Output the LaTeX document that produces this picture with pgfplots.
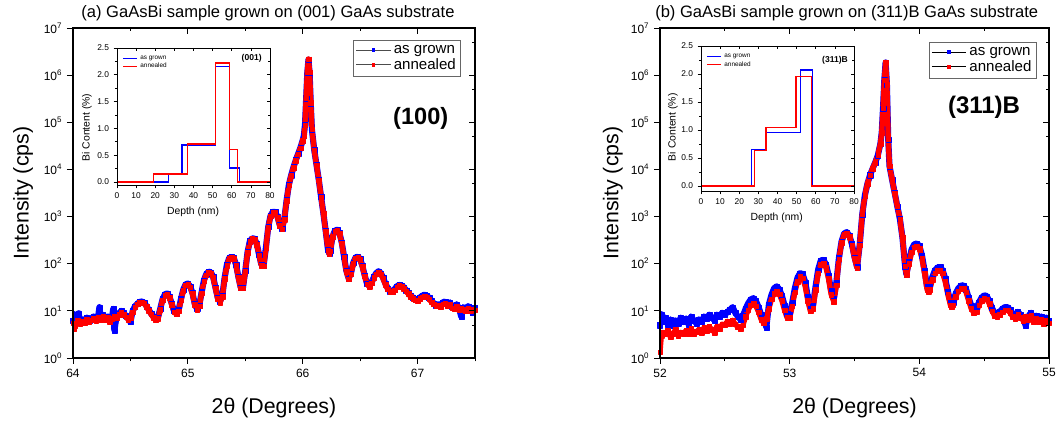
\documentclass[border=0pt]{standalone}
\usepackage{fontspec}
\setmainfont{Liberation Sans}
\usepackage{pgfplots}
\usepackage{pgfplotstable}
\pgfplotsset{compat=1.18}

\pgfplotstableread{
x y
64.00 6.3
64.01 8.5
64.02 6.0
64.04 7.1
64.05 8.9
64.06 5.8
64.08 6.6
64.10 6.3
64.12 7.2
64.14 6.2
64.16 6.9
64.18 7.6
64.20 6.8
64.22 7.9
64.23 12.0
64.24 7.2
64.26 8.3
64.28 7.1
64.30 7.6
64.32 6.3
64.34 7.2
64.35 11.0
64.36 3.9
64.38 7.6
64.40 8.9
64.42 10.0
64.44 9.1
64.46 7.9
64.48 6.9
64.50 5.8
64.52 10.0
64.54 12.6
64.56 14.1
64.58 15.5
64.60 15.8
64.62 14.8
64.64 12.6
64.66 10.5
64.68 8.7
64.70 7.6
64.72 6.9
64.74 7.2
64.76 11.2
64.78 17.8
64.80 22.4
64.82 23.4
64.84 20.0
64.86 14.1
64.88 10.0
64.90 8.9
64.92 10.5
64.94 17.8
64.96 28.2
64.98 36.3
65.00 38.0
65.02 33.1
65.04 24.0
65.06 14.1
65.08 11.2
65.10 13.2
65.12 25.1
65.14 44.7
65.16 60.3
65.18 67.6
65.20 66.1
65.22 52.5
65.24 31.6
65.26 19.1
65.28 15.8
65.30 20.9
65.32 50.1
65.34 95.5
65.36 132
65.38 141
65.40 132
65.42 95.5
65.44 52.5
65.46 31.6
65.48 31.6
65.50 70.8
65.52 178
65.54 302
65.56 347
65.58 339
65.60 263
65.62 158
65.64 95.5
65.66 93.3
65.68 224
65.70 603
65.72 1047
65.74 1259
65.76 1259
65.78 1000
65.80 661
65.82 562
65.84 891
65.86 2239
65.88 4786
65.90 7586
65.92 11220
65.94 15850
65.96 21380
65.98 28840
66.00 41690
66.01 52480
66.02 89130
66.03 316200
66.04 1122000
66.05 2138000
66.06 1122000
66.07 251200
66.08 70790
66.10 26300
66.12 12590
66.14 6026
66.16 2630
66.18 1175
66.20 501
66.22 200
66.23 166
66.24 191
66.26 380
66.28 501
66.30 525
66.32 447
66.34 282
66.36 141
66.38 70.8
66.40 49.0
66.42 63.1
66.44 105
66.46 135
66.48 141
66.50 126
66.52 89.1
66.54 56.2
66.56 38.0
66.58 33.9
66.60 39.8
66.62 52.5
66.64 63.1
66.66 69.2
66.68 63.1
66.70 50.1
66.72 38.0
66.74 30.2
66.76 26.3
66.78 26.3
66.80 28.8
66.82 33.1
66.84 35.5
66.86 34.7
66.88 31.6
66.90 27.5
66.92 24.0
66.94 20.9
66.96 19.1
66.98 17.8
67.00 17.4
67.02 19.1
67.04 20.9
67.06 21.9
67.08 20.9
67.10 19.1
67.12 16.6
67.14 14.5
67.16 13.2
67.18 13.8
67.20 13.2
67.22 15.1
67.24 15.8
67.26 14.1
67.28 15.1
67.30 12.6
67.32 12.0
67.34 13.8
67.36 11.5
67.38 7.6
67.40 12.0
67.42 11.0
67.44 12.6
67.46 11.2
67.48 9.0
67.50 11.5
}\blueL

\pgfplotstableread{
x y
64.00 5.5
64.01 4.2
64.02 4.8
64.04 6.2
64.06 5.4
64.08 6.0
64.10 5.6
64.12 6.5
64.14 5.9
64.16 6.4
64.18 6.9
64.20 6.3
64.22 7.2
64.24 6.6
64.26 7.6
64.28 6.6
64.30 7.2
64.32 6.0
64.34 6.9
64.36 7.6
64.38 7.2
64.40 8.3
64.42 9.1
64.44 8.3
64.46 7.4
64.48 6.6
64.50 7.2
64.52 9.5
64.54 12.0
64.56 13.8
64.58 15.1
64.60 15.5
64.62 14.5
64.64 12.3
64.66 10.2
64.68 8.5
64.70 7.2
64.72 6.4
64.74 6.9
64.76 10.7
64.78 17.0
64.80 21.4
64.82 22.4
64.84 19.1
64.86 13.5
64.88 9.5
64.90 8.5
64.92 10.0
64.94 17.0
64.96 27.0
64.98 35.0
65.00 36.6
65.02 32.0
65.04 23.0
65.06 13.5
65.08 10.7
65.10 12.6
65.12 24.0
65.14 43.0
65.16 58.0
65.18 65.0
65.20 64.0
65.22 50.5
65.24 30.2
65.26 18.2
65.28 15.1
65.30 20.0
65.32 48.0
65.34 92.0
65.36 128
65.38 137
65.40 128
65.42 92.0
65.44 50.5
65.46 30.2
65.48 30.2
65.50 68.0
65.52 172
65.54 295
65.56 340
65.58 330
65.60 255
65.62 152
65.64 92.0
65.66 90.0
65.68 218
65.70 590
65.72 1030
65.74 1240
65.76 1240
65.78 980
65.80 645
65.82 548
65.84 870
65.86 2200
65.88 4700
65.90 7450
65.92 11000
65.94 15600
65.96 21000
65.98 28400
66.00 41000
66.01 51800
66.02 88000
66.03 330000
66.04 1180000
66.05 2200000
66.06 1150000
66.07 260000
66.08 72000
66.10 26000
66.12 12400
66.14 5900
66.16 2580
66.18 1150
66.20 490
66.22 196
66.23 162
66.24 186
66.26 372
66.28 490
66.30 512
66.32 437
66.34 275
66.36 137
66.38 69.0
66.40 47.5
66.42 61.0
66.44 102
66.46 131
66.48 137
66.50 122
66.52 86.0
66.54 54.5
66.56 36.8
66.58 32.8
66.60 38.5
66.62 51.0
66.64 61.0
66.66 67.0
66.68 61.0
66.70 48.0
66.72 36.0
66.74 29.0
66.76 25.0
66.78 25.5
66.80 27.5
66.82 32.0
66.84 34.0
66.86 33.0
66.88 30.0
66.90 26.0
66.92 23.0
66.94 20.0
66.96 18.2
66.98 17.0
67.00 16.6
67.02 18.0
67.04 19.5
67.06 20.4
67.08 19.5
67.10 17.8
67.12 15.5
67.14 13.8
67.16 12.6
67.18 12.9
67.20 12.3
67.22 13.8
67.24 14.5
67.26 12.9
67.28 13.8
67.30 11.5
67.32 11.0
67.34 12.6
67.36 10.5
67.38 11.2
67.40 10.7
67.42 10.0
67.44 11.5
67.46 10.2
67.48 10.7
67.50 10.5
}\redL

\pgfplotstableread{
x y
52.00 5.0
52.01 8.5
52.02 6.0
52.04 7.2
52.06 5.2
52.08 6.6
52.10 4.8
52.12 6.3
52.14 5.5
52.16 7.2
52.18 5.8
52.20 6.9
52.22 5.2
52.24 7.6
52.26 6.3
52.28 5.5
52.30 6.6
52.32 5.8
52.34 7.6
52.36 6.9
52.38 8.3
52.40 7.2
52.42 6.3
52.44 8.3
52.46 7.6
52.48 9.1
52.50 8.3
52.52 9.5
52.54 10.5
52.56 12.0
52.58 9.1
52.60 7.6
52.62 6.6
52.64 7.9
52.66 11.0
52.68 14.5
52.70 17.4
52.72 18.6
52.74 16.2
52.76 12.0
52.78 8.3
52.80 6.9
52.82 4.5
52.84 13.8
52.86 21.9
52.88 30.2
52.90 33.1
52.92 28.8
52.94 20.9
52.96 13.2
52.98 8.7
53.00 8.3
53.02 15.1
53.04 30.2
53.06 50.1
53.08 63.1
53.10 60.3
53.12 40.7
53.14 20.0
53.16 11.2
53.18 13.2
53.20 33.1
53.22 75.9
53.24 117
53.26 120
53.28 97.7
53.30 56.2
53.32 26.3
53.34 17.8
53.36 40.0
53.38 132
53.40 295
53.42 437
53.44 468
53.46 398
53.48 263
53.50 138
53.52 85.0
53.54 251
53.56 1122
53.58 2818
53.60 5012
53.62 7586
53.64 10470
53.66 14130
53.68 19950
53.70 35480
53.71 60260
53.72 199500
53.73 794300
53.74 1862000
53.75 631000
53.76 43650
53.77 11750
53.79 6026
53.81 3162
53.83 1660
53.85 891
53.87 355
53.89 89.1
53.90 60.0
53.92 110
53.94 200
53.96 257
53.98 269
54.00 240
54.02 151
54.04 72.0
54.06 32.0
54.07 29.0
54.08 32.0
54.10 52.0
54.12 72.0
54.14 83.0
54.16 85.0
54.18 72.0
54.20 48.0
54.22 26.0
54.24 15.2
54.25 14.1
54.26 15.2
54.28 23.0
54.30 30.0
54.32 34.0
54.34 35.0
54.36 29.0
54.38 19.0
54.40 13.0
54.42 10.5
54.44 11.0
54.46 15.2
54.48 19.0
54.50 21.4
54.52 20.5
54.54 16.2
54.56 11.5
54.58 9.1
54.60 8.7
54.62 9.5
54.64 11.0
54.66 12.0
54.68 12.0
54.70 10.5
54.72 8.7
54.74 7.9
54.76 9.5
54.78 8.3
54.80 7.2
54.82 4.9
54.84 7.6
54.86 9.1
54.88 6.9
54.90 7.9
54.92 6.6
54.94 7.6
54.96 6.0
54.98 7.2
55.00 6.3
}\blueR

\pgfplotstableread{
x y
52.00 1.35
52.01 3.0
52.02 3.5
52.04 3.2
52.06 3.8
52.08 2.8
52.10 3.3
52.12 4.0
52.14 3.0
52.16 3.5
52.18 3.2
52.20 3.8
52.22 3.3
52.24 4.2
52.26 3.2
52.28 3.6
52.30 4.0
52.32 3.5
52.34 4.4
52.36 3.8
52.38 4.6
52.40 4.0
52.42 3.5
52.44 4.8
52.46 4.2
52.48 5.2
52.50 5.0
52.52 6.0
52.54 5.2
52.56 6.3
52.58 5.2
52.60 4.6
52.62 4.2
52.64 5.0
52.66 7.6
52.68 10.5
52.70 13.2
52.72 14.5
52.74 12.6
52.76 9.5
52.78 6.6
52.80 5.5
52.82 6.9
52.84 11.2
52.86 17.8
52.88 23.4
52.90 25.7
52.92 22.9
52.94 16.6
52.96 10.5
52.98 7.2
53.00 7.2
53.02 12.6
53.04 25.1
53.06 41.7
53.08 53.7
53.10 50.1
53.12 33.1
53.14 16.6
53.16 9.8
53.18 11.2
53.20 28.2
53.22 63.1
53.24 95.5
53.26 102
53.28 83.2
53.30 47.9
53.32 22.4
53.34 15.8
53.36 35.5
53.38 126
53.40 282
53.42 417
53.44 447
53.46 380
53.48 251
53.50 132
53.52 81.3
53.54 251
53.56 1122
53.58 2818
53.60 5012
53.62 7586
53.64 10470
53.66 14130
53.68 19950
53.70 35480
53.71 60260
53.72 199500
53.73 794300
53.74 1862000
53.75 631000
53.76 43650
53.77 11750
53.79 6026
53.81 3162
53.83 1660
53.85 891
53.87 355
53.89 89.1
53.90 58.9
53.92 100
53.94 178
53.96 224
53.98 234
54.00 209
54.02 132
54.04 63.1
54.06 28.2
54.07 25.7
54.08 28.2
54.10 45.7
54.12 63.1
54.14 72.4
54.16 74.1
54.18 63.1
54.20 41.7
54.22 22.4
54.24 13.2
54.25 12.3
54.26 13.2
54.28 20.0
54.30 26.3
54.32 29.5
54.34 30.2
54.36 25.1
54.38 16.6
54.40 11.2
54.42 9.1
54.44 9.5
54.46 13.2
54.48 16.6
54.50 18.6
54.52 17.8
54.54 14.1
54.56 10.0
54.58 7.9
54.60 7.6
54.62 8.3
54.64 9.5
54.66 10.5
54.68 10.5
54.70 9.1
54.72 7.6
54.74 6.9
54.76 8.3
54.78 7.2
54.80 6.3
54.82 7.6
54.84 6.6
54.86 7.9
54.88 6.0
54.90 6.9
54.92 5.8
54.94 6.6
54.96 5.2
54.98 6.3
55.00 5.5
}\redR

\pgfplotsset{/pgf/number format/assume math mode=true}

\begin{document}
\begin{tikzpicture}
\path[use as bounding box] (0pt,0pt) rectangle (795pt,-317.25pt);

% ---------- left main panel ----------
\begin{axis}[at={(54.75pt,-268.5pt)}, anchor=south west,
  scale only axis, width=301.5pt, height=247.5pt,
  ymode=log, ymin=1, ymax=10000000,
  xmin=64, xmax=67.5, xtick={64,65,66,67}, minor xtick={64.5,65.5,66.5,67.5},
  ytick={1,10,100,1000,10000,100000,1000000,10000000},
  yticklabels={10\textsuperscript{0},10\textsuperscript{1},10\textsuperscript{2},10\textsuperscript{3},10\textsuperscript{4},10\textsuperscript{5},10\textsuperscript{6},10\textsuperscript{7}},
  yminorticks=false,
  axis line style={black, line width=0.8pt},
  tick style={black, line width=0.7pt},
  major tick length=4.5pt, minor tick length=2.5pt,
  xtick pos=bottom, ytick pos=left, tick align=outside,
  tick label style={font=\fontsize{9}{10}\selectfont},
  xlabel={2θ (Degrees)}, ylabel={Intensity (cps)},
  label style={font=\fontsize{16}{18}\selectfont},
  xlabel style={at={(axis description cs:0.5,-0.152)}, anchor=center},
  ylabel style={at={(axis description cs:-0.124,0.5)}, anchor=center},
  title={(a) GaAsBi sample grown on (001) GaAs substrate},
  title style={at={(axis description cs:0.485,1.02)}, anchor=center, font=\fontsize{12.4}{14}\selectfont},
  legend style={at={(axis description cs:0.965,0.964)}, anchor=north east,
    draw=black!60, line width=0.6pt, font=\fontsize{11.3}{13}\selectfont,
    inner sep=1.5pt, row sep=-1.5pt, cells={anchor=west}},
]
\addplot[blue, line width=4.6pt, line join=round, mark=square*, mark size=1.9pt,
  mark options={line width=0.1pt},
  legend image code/.code={\draw[black!70,line width=0.6pt] (0pt,0pt) -- (26pt,0pt);
    \path[fill=blue, draw=none, line width=0.1pt] (11.7pt,-1.3pt) rectangle (14.3pt,1.3pt);}] table {\blueL};
\addlegendentry{as grown}
\addplot[red, line width=4.0pt, line join=round, mark=square*, mark size=1.7pt,
  mark options={line width=0.1pt},
  legend image code/.code={\draw[black!70,line width=0.6pt] (0pt,0pt) -- (26pt,0pt);
    \path[fill=red, draw=none, line width=0.1pt] (11.7pt,-1.3pt) rectangle (14.3pt,1.3pt);}] table {\redL};
\addlegendentry{annealed}
\node[font=\bfseries\fontsize{17.7}{20}\selectfont] at (axis description cs:0.865,0.727) {(100)};
\end{axis}
\begin{axis}[at={(54.75pt,-268.5pt)}, anchor=south west,
  scale only axis, width=301.5pt, height=247.5pt,
  ymode=log, ymin=1, ymax=10000000,
  xmin=64, xmax=67.5, xtick={64,65,66,67}, minor xtick={64.5,65.5,66.5,67.5},
  ytick={1,10,100,1000,10000,100000,1000000,10000000},
  minor ytick={5,50,500,5000,50000,500000,5000000},
  axis line style={black, line width=0.8pt},
  tick style={black, line width=0.7pt},
  major tick length=4.5pt, minor tick length=2.5pt,
  xtick pos=top, ytick pos=right, tick align=inside,
  xticklabels={}, yticklabels={},
]
\addplot[draw=none] coordinates {(64,10)};
\end{axis}

% ---------- right main panel ----------
\begin{axis}[at={(495pt,-268.5pt)}, anchor=south west,
  scale only axis, width=291.75pt, height=247.5pt,
  ymode=log, ymin=1, ymax=10000000,
  xmin=52, xmax=55, xtick={52,53,54,55}, minor xtick={52.5,53.5,54.5},
  ytick={1,10,100,1000,10000,100000,1000000,10000000},
  yticklabels={10\textsuperscript{0},10\textsuperscript{1},10\textsuperscript{2},10\textsuperscript{3},10\textsuperscript{4},10\textsuperscript{5},10\textsuperscript{6},10\textsuperscript{7}},
  yminorticks=false,
  axis line style={black, line width=0.8pt},
  tick style={black, line width=0.7pt},
  major tick length=4.5pt, minor tick length=2.5pt,
  xtick pos=bottom, ytick pos=left, tick align=outside,
  tick label style={font=\fontsize{9}{10}\selectfont},
  xlabel={2θ (Degrees)}, ylabel={Intensity (cps)},
  label style={font=\fontsize{16}{18}\selectfont},
  xlabel style={at={(axis description cs:0.5,-0.152)}, anchor=center},
  ylabel style={at={(axis description cs:-0.121,0.5)}, anchor=center},
  title={(b) GaAsBi sample grown on (311)B GaAs substrate},
  title style={at={(axis description cs:0.48,1.02)}, anchor=center, font=\fontsize{12.4}{14}\selectfont},
  legend style={at={(axis description cs:0.968,0.958)}, anchor=north east,
    draw=black!60, line width=0.6pt, font=\fontsize{11.3}{13}\selectfont,
    inner sep=1.5pt, row sep=-1.5pt, cells={anchor=west}},
]
\addplot[blue, line width=4.6pt, line join=round, mark=square*, mark size=1.9pt,
  mark options={line width=0.1pt},
  legend image code/.code={\draw[black,line width=0.6pt] (0pt,0pt) -- (26pt,0pt);
    \path[fill=blue, draw=none, line width=0.1pt] (11.7pt,-1.3pt) rectangle (14.3pt,1.3pt);}] table {\blueR};
\addlegendentry{as grown}
\addplot[red, line width=4.0pt, line join=round, mark=square*, mark size=1.7pt,
  mark options={line width=0.1pt},
  legend image code/.code={\draw[black,line width=0.6pt] (0pt,0pt) -- (26pt,0pt);
    \path[fill=red, draw=none, line width=0.1pt] (11.7pt,-1.3pt) rectangle (14.3pt,1.3pt);}] table {\redR};
\addlegendentry{annealed}
\node[font=\bfseries\fontsize{18}{20}\selectfont] at (axis description cs:0.833,0.76) {(311)B};
\end{axis}
\begin{axis}[at={(495pt,-268.5pt)}, anchor=south west,
  scale only axis, width=291.75pt, height=247.5pt,
  ymode=log, ymin=1, ymax=10000000,
  xmin=52, xmax=55, xtick={52,53,54,55}, minor xtick={52.5,53.5,54.5},
  ytick={1,10,100,1000,10000,100000,1000000,10000000},
  minor ytick={5,50,500,5000,50000,500000,5000000},
  axis line style={black, line width=0.8pt},
  tick style={black, line width=0.7pt},
  major tick length=4.5pt, minor tick length=2.5pt,
  xtick pos=top, ytick pos=right, tick align=inside,
  xticklabels={}, yticklabels={},
]
\addplot[draw=none] coordinates {(52,10)};
\end{axis}

% ---------- left inset ----------
\begin{axis}[at={(87.75pt,-138.75pt)}, anchor=south west,
  scale only axis, width=114.75pt, height=102.75pt,
  xmin=0, xmax=80, ymin=-0.056, ymax=2.5,
  axis background/.style={fill=white},
  axis line style={black, line width=0.6pt},
  tick style={black, line width=0.5pt},
  major tick length=2.5pt, minor tick length=1.5pt,
  xtick={0,10,20,30,40,50,60,70,80}, ytick={0,0.5,1,1.5,2,2.5},
  minor y tick num=1,
  xtick pos=bottom, ytick pos=left, tick align=outside,
  tick label style={font=\fontsize{6.3}{7}\selectfont},
  yticklabel style={/pgf/number format/fixed, /pgf/number format/fixed zerofill, /pgf/number format/precision=1},
  xlabel={Depth (nm)}, ylabel={Bi Content (\%)},
  label style={font=\fontsize{7.8}{9}\selectfont},
  xlabel style={at={(axis description cs:0.497,-0.197)}, anchor=center},
  ylabel style={at={(axis description cs:-0.196,0.42)}, anchor=center},
  legend style={at={(axis description cs:0.03,0.97)}, anchor=north west, draw=none, fill=none,
    font=\fontsize{4.8}{5.5}\selectfont, inner sep=0.5pt, row sep=-2.5pt, cells={anchor=west}},
]
\addplot[blue, line width=0.9pt, const plot,
  legend image code/.code={\draw[blue,line width=0.9pt] (0pt,0pt) -- (10.5pt,0pt);}]
  coordinates {(0,0) (27,0.14) (34,0.69) (51.5,2.16) (59,0.26) (64,0) (80,0)};
\addlegendentry{as grown}
\addplot[red, line width=0.9pt, const plot,
  legend image code/.code={\draw[red,line width=0.9pt] (0pt,0pt) -- (10.5pt,0pt);}]
  coordinates {(0,0) (19,0.15) (37,0.71) (51.5,2.22) (59,0.61) (63,0) (80,0)};
\addlegendentry{annealed}
\node[font=\bfseries\fontsize{6.4}{7}\selectfont] at (axis description cs:0.88,0.925) {(001)};
\end{axis}
\begin{axis}[at={(87.75pt,-138.75pt)}, anchor=south west,
  scale only axis, width=114.75pt, height=102.75pt,
  xmin=0, xmax=80, ymin=-0.056, ymax=2.5,
  axis line style={black, line width=0.6pt},
  tick style={black, line width=0.5pt},
  major tick length=2.5pt, minor tick length=1.5pt,
  xtick={0,10,20,30,40,50,60,70,80}, ytick={0,0.5,1,1.5,2,2.5},
  minor y tick num=1,
  xtick pos=top, ytick pos=right, tick align=inside,
  xticklabels={}, yticklabels={},
]
\addplot[draw=none] coordinates {(0,0)};
\end{axis}

% ---------- right inset ----------
\begin{axis}[at={(525.75pt,-143.25pt)}, anchor=south west,
  scale only axis, width=114.75pt, height=108.75pt,
  xmin=0, xmax=80, ymin=-0.09, ymax=2.5,
  axis background/.style={fill=white},
  axis line style={black, line width=0.6pt},
  tick style={black, line width=0.5pt},
  major tick length=2.5pt, minor tick length=1.5pt,
  xtick={0,10,20,30,40,50,60,70,80}, ytick={0,0.5,1,1.5,2,2.5},
  minor y tick num=1,
  xtick pos=bottom, ytick pos=left, tick align=outside,
  tick label style={font=\fontsize{6.3}{7}\selectfont},
  yticklabel style={/pgf/number format/fixed, /pgf/number format/fixed zerofill, /pgf/number format/precision=1},
  xlabel={Depth (nm)}, ylabel={Bi Content (\%)},
  label style={font=\fontsize{7.8}{9}\selectfont},
  xlabel style={at={(axis description cs:0.495,-0.188)}, anchor=center},
  ylabel style={at={(axis description cs:-0.183,0.44)}, anchor=center},
  legend style={at={(axis description cs:0.03,0.97)}, anchor=north west, draw=none, fill=none,
    font=\fontsize{4.8}{5.5}\selectfont, inner sep=0.5pt, row sep=-2.5pt, cells={anchor=west}},
]
\addplot[blue, line width=0.9pt, const plot,
  legend image code/.code={\draw[blue,line width=0.9pt] (0pt,0pt) -- (10.5pt,0pt);}]
  coordinates {(0,0) (26.6,0.65) (34,0.95) (52.2,2.07) (58.4,0) (80,0)};
\addlegendentry{as grown}
\addplot[red, line width=0.9pt, const plot,
  legend image code/.code={\draw[red,line width=0.9pt] (0pt,0pt) -- (10.5pt,0pt);}]
  coordinates {(0,0) (27.8,0.63) (34,1.04) (49.7,1.95) (57.9,0) (80,0)};
\addlegendentry{annealed}
\node[font=\bfseries\fontsize{6.4}{7}\selectfont] at (axis description cs:0.876,0.903) {(311)B};
\end{axis}
\begin{axis}[at={(525.75pt,-143.25pt)}, anchor=south west,
  scale only axis, width=114.75pt, height=108.75pt,
  xmin=0, xmax=80, ymin=-0.09, ymax=2.5,
  axis line style={black, line width=0.6pt},
  tick style={black, line width=0.5pt},
  major tick length=2.5pt, minor tick length=1.5pt,
  xtick={0,10,20,30,40,50,60,70,80}, ytick={0,0.5,1,1.5,2,2.5},
  minor y tick num=1,
  xtick pos=top, ytick pos=right, tick align=inside,
  xticklabels={}, yticklabels={},
]
\addplot[draw=none] coordinates {(0,0)};
\end{axis}
\end{tikzpicture}
\end{document}
